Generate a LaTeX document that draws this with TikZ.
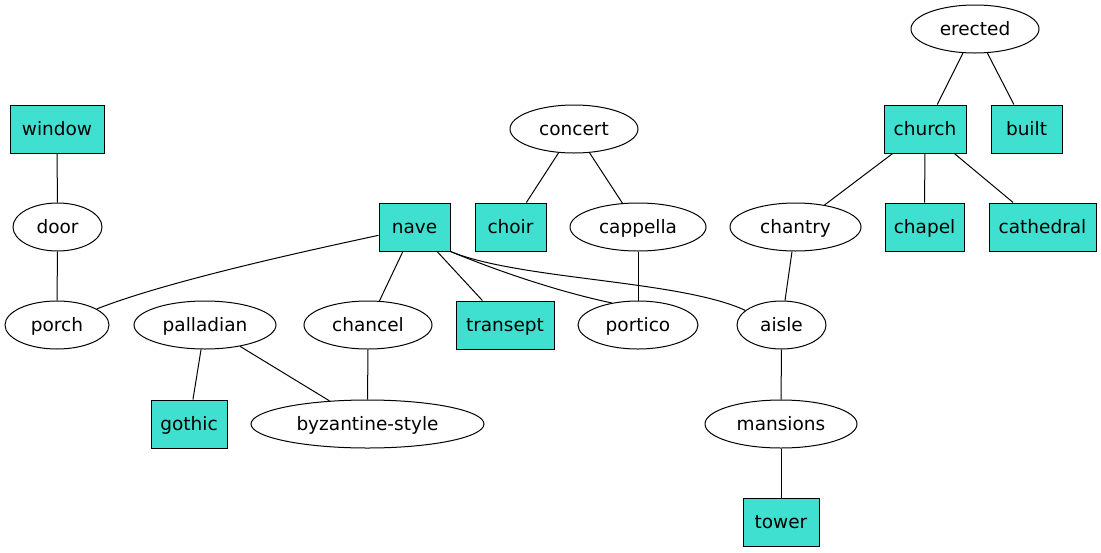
\documentclass[tikz,border=0pt]{standalone}
\usepackage{fontspec}
\setmainfont{DejaVu Sans}
\usetikzlibrary{shapes.geometric}
\definecolor{turq}{HTML}{40E0D0}
\tikzset{
  base/.style={draw=black, line width=1pt, inner sep=0pt, text height=16pt, text depth=4pt, font=\fontsize{18.5}{20}\selectfont},
  ell/.style={base, ellipse, minimum height=48pt},
  box/.style={base, rectangle, fill=turq, minimum height=48pt},
  edge/.style={line width=1pt, black}
}
\begin{document}
\begin{tikzpicture}[x=1pt,y=-1pt]
\useasboundingbox (0,0) rectangle (1101,552);
\node[ell, minimum width=128pt] (erected) at (975,29) {erected};
\node[box, minimum width=94pt] (window) at (57,129) {window};
\node[ell, minimum width=128pt] (concert) at (574,129) {concert};
\node[box, minimum width=82pt] (church) at (925,129) {church};
\node[box, minimum width=71pt] (built) at (1026.5,129) {built};
\node[ell, minimum width=89pt] (door) at (57.5,227) {door};
\node[box, minimum width=71pt] (nave) at (414.5,227) {nave};
\node[box, minimum width=71pt] (choir) at (510.5,227) {choir};
\node[ell, minimum width=136pt] (cappella) at (638,227) {cappella};
\node[ell, minimum width=131pt] (chantry) at (795.5,227) {chantry};
\node[box, minimum width=79pt] (chapel) at (924.5,227) {chapel};
\node[box, minimum width=107pt] (cathedral) at (1042.5,227) {cathedral};
\node[ell, minimum width=104pt] (porch) at (57,325) {porch};
\node[ell, minimum width=142pt] (palladian) at (205,325) {palladian};
\node[ell, minimum width=128pt] (chancel) at (368,325) {chancel};
\node[box, minimum width=98pt] (transept) at (505,325) {transept};
\node[ell, minimum width=120pt] (portico) at (638,325) {portico};
\node[ell, minimum width=89pt] (aisle) at (781.5,325) {aisle};
\node[box, minimum width=76pt] (gothic) at (189,424) {gothic};
\node[ell, minimum width=233pt] (byz) at (367.5,424) {byzantine-style};
\node[ell, minimum width=152pt] (mansions) at (781,424) {mansions};
\node[box, minimum width=76pt] (tower) at (781,522) {tower};

\draw[edge] (erected) -- (church);
\draw[edge] (erected) -- (built);
\draw[edge] (window) -- (door);
\draw[edge] (door) -- (porch);
\draw[edge] (concert) -- (choir);
\draw[edge] (concert) -- (cappella);
\draw[edge] (church) -- (chantry);
\draw[edge] (church) -- (chapel);
\draw[edge] (church) -- (cathedral);
\draw[edge] (nave.193) .. controls (320,248) and (170,280) .. (porch.22);
\draw[edge] (nave) -- (chancel);
\draw[edge] (nave) -- (transept);
\draw[edge] (nave.south east) .. controls (500,272) and (560,292) .. (portico.140);
\draw[edge] (nave.south east) .. controls (520,280) and (680,280) .. (aisle.158);
\draw[edge] (cappella) -- (portico);
\draw[edge] (chantry) -- (aisle);
\draw[edge] (palladian) -- (gothic);
\draw[edge] (palladian) -- (byz);
\draw[edge] (chancel) -- (byz);
\draw[edge] (aisle) -- (mansions);
\draw[edge] (mansions) -- (tower);
\end{tikzpicture}
\end{document}
